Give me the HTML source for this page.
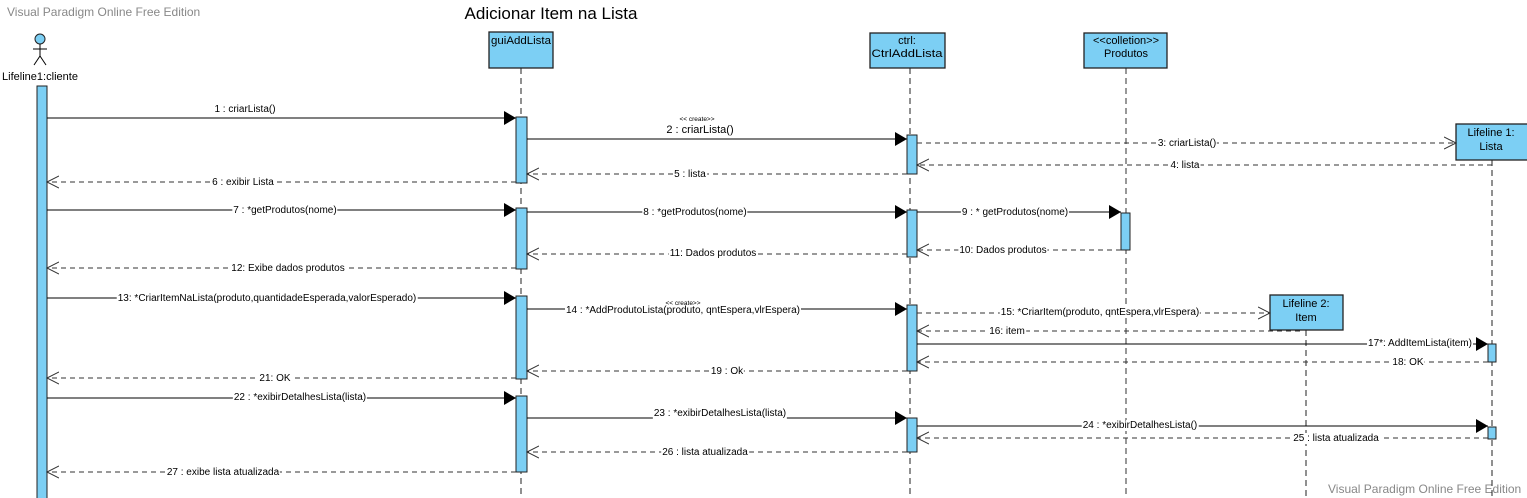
<!DOCTYPE html>
<html><head><meta charset="utf-8"><style>
html,body{margin:0;padding:0;background:#fff;}
#w{position:relative;width:1527px;height:498px;overflow:hidden;font-family:"Liberation Sans",sans-serif;}
svg{display:block;position:absolute;left:0;top:0;font-family:"Liberation Sans",sans-serif;}
.t{position:absolute;font-size:10px;line-height:11px;white-space:nowrap;background:#fff;transform:translateX(-50%);padding:0 1px;color:#000;}
.box{fill:#7ccff4;stroke:#222;stroke-width:1.3;}
.act{fill:#7ccff4;stroke:#222;stroke-width:1;}
.ll{stroke:#222;stroke-width:1;stroke-dasharray:6,4;fill:none;}
.s{stroke:#000;stroke-width:1;fill:none;}
.d{stroke:#333;stroke-width:1;stroke-dasharray:5,4;fill:none;}
</style></head><body><div id="w">
<svg width="1527" height="498" viewBox="0 0 1527 498" xmlns="http://www.w3.org/2000/svg">
<defs>
<marker id="f" markerWidth="13" markerHeight="14" refX="12" refY="7" orient="auto" markerUnits="userSpaceOnUse"><path d="M0,0 L12,7 L0,14 z" fill="#000"/></marker>
<marker id="o" markerWidth="14" markerHeight="14" refX="12" refY="7" orient="auto" markerUnits="userSpaceOnUse"><path d="M0,1 L12,7 L0,13" fill="none" stroke="#333" stroke-width="1"/></marker>
</defs>
<text x="7" y="16" font-size="12" fill="#888">Visual Paradigm Online Free Edition</text>
<text x="1328" y="493" font-size="12" fill="#888">Visual Paradigm Online Free Edition</text>
<text x="551" y="19" font-size="17" text-anchor="middle">Adicionar Item na Lista</text>

<circle cx="40" cy="39" r="5" fill="#7ccff4" stroke="#222"/>
<line x1="40" y1="44" x2="40" y2="56" class="s"/>
<line x1="33" y1="49" x2="47" y2="49" class="s"/>
<line x1="40" y1="56" x2="34" y2="65" class="s"/>
<line x1="40" y1="56" x2="46" y2="65" class="s"/>
<text x="40" y="80" font-size="11" text-anchor="middle" textLength="76" lengthAdjust="spacingAndGlyphs">Lifeline1:cliente</text>
<rect x="37" y="86" width="10" height="420" class="act"/>

<line x1="521" y1="68" x2="521" y2="498" class="ll"/>
<line x1="910" y1="68" x2="910" y2="498" class="ll"/>
<line x1="1126" y1="68" x2="1126" y2="498" class="ll" style="stroke:#777;stroke-width:1.5"/>
<line x1="1492" y1="160" x2="1492" y2="498" class="ll"/>
<line x1="1306" y1="330" x2="1306" y2="498" class="ll"/>

<rect x="489" y="32" width="64" height="36" class="box"/>
<text x="521" y="44" font-size="11" text-anchor="middle" textLength="60" lengthAdjust="spacingAndGlyphs">guiAddLista</text>
<rect x="870" y="33" width="75" height="35" class="box"/>
<text x="907" y="44" font-size="11" text-anchor="middle">ctrl:</text>
<text x="907" y="57" font-size="11" text-anchor="middle" textLength="71" lengthAdjust="spacingAndGlyphs">CtrlAddLista</text>
<rect x="1084" y="33" width="83" height="35" class="box"/>
<text x="1126" y="44" font-size="11" text-anchor="middle">&lt;&lt;colletion&gt;&gt;</text>
<text x="1126" y="57" font-size="11" text-anchor="middle">Produtos</text>
<rect x="1456" y="124" width="73" height="36" class="box"/>
<text x="1491" y="136" font-size="11" text-anchor="middle">Lifeline 1:</text>
<text x="1491" y="150" font-size="11" text-anchor="middle">Lista</text>
<rect x="1270" y="295" width="73" height="35" class="box"/>
<text x="1306" y="307" font-size="11" text-anchor="middle">Lifeline 2:</text>
<text x="1306" y="321" font-size="11" text-anchor="middle">Item</text>

<rect x="516" y="117" width="11" height="66" class="act"/>
<rect x="516" y="208" width="11" height="61" class="act"/>
<rect x="516" y="296" width="11" height="83" class="act"/>
<rect x="516" y="396" width="11" height="76" class="act"/>
<rect x="907" y="135" width="10" height="39" class="act"/>
<rect x="907" y="210" width="10" height="47" class="act"/>
<rect x="907" y="305" width="10" height="66" class="act"/>
<rect x="907" y="418" width="10" height="34" class="act"/>
<rect x="1121" y="213" width="9" height="37" class="act"/>
<rect x="1488" y="344" width="8" height="18" class="act"/>
<rect x="1488" y="427" width="8" height="12" class="act"/>

<line x1="47" y1="118" x2="516" y2="118" class="s" marker-end="url(#f)"/>
<text x="697" y="121" font-size="6.5" text-anchor="middle">&lt;&lt; create&gt;&gt;</text>
<line x1="527" y1="139" x2="907" y2="139" class="s" marker-end="url(#f)"/>
<line x1="917" y1="143" x2="1456" y2="143" class="d" marker-end="url(#o)"/>
<line x1="1492" y1="165" x2="917" y2="165" class="d" marker-end="url(#o)"/>
<line x1="907" y1="174" x2="527" y2="174" class="d" marker-end="url(#o)"/>
<line x1="516" y1="182" x2="47" y2="182" class="d" marker-end="url(#o)"/>
<line x1="47" y1="210" x2="516" y2="210" class="s" marker-end="url(#f)"/>
<line x1="527" y1="212" x2="907" y2="212" class="s" marker-end="url(#f)"/>
<line x1="917" y1="212" x2="1121" y2="212" class="s" marker-end="url(#f)"/>
<line x1="1121" y1="250" x2="917" y2="250" class="d" marker-end="url(#o)"/>
<line x1="907" y1="254" x2="527" y2="254" class="d" marker-end="url(#o)"/>
<line x1="516" y1="268" x2="47" y2="268" class="d" marker-end="url(#o)"/>
<line x1="47" y1="298" x2="516" y2="298" class="s" marker-end="url(#f)"/>
<text x="683" y="305" font-size="6.5" text-anchor="middle">&lt;&lt; create&gt;&gt;</text>
<line x1="527" y1="309" x2="907" y2="309" class="s" marker-end="url(#f)"/>
<line x1="917" y1="313" x2="1270" y2="313" class="d" marker-end="url(#o)"/>
<line x1="1300" y1="331" x2="917" y2="331" class="d" marker-end="url(#o)"/>
<line x1="917" y1="344" x2="1488" y2="344" class="s" marker-end="url(#f)"/>
<line x1="1488" y1="362" x2="917" y2="362" class="d" marker-end="url(#o)"/>
<line x1="907" y1="371" x2="527" y2="371" class="d" marker-end="url(#o)"/>
<line x1="516" y1="378" x2="47" y2="378" class="d" marker-end="url(#o)"/>
<line x1="47" y1="398" x2="516" y2="398" class="s" marker-end="url(#f)"/>
<line x1="527" y1="418" x2="907" y2="418" class="s" marker-end="url(#f)"/>
<line x1="917" y1="426" x2="1488" y2="426" class="s" marker-end="url(#f)"/>
<line x1="1488" y1="438" x2="917" y2="438" class="d" marker-end="url(#o)"/>
<line x1="907" y1="452" x2="527" y2="452" class="d" marker-end="url(#o)"/>
<line x1="516" y1="472" x2="47" y2="472" class="d" marker-end="url(#o)"/>
</svg>
<div class="t" style="left:245px;top:104px;">1 : criarLista()</div>
<div class="t" style="left:700px;top:124px;font-size:11px;line-height:12px;">2 : criarLista()</div>
<div class="t" style="left:1187px;top:138px;">3: criarLista()</div>
<div class="t" style="left:1185px;top:160px;">4: lista</div>
<div class="t" style="left:690px;top:169px;">5 : lista</div>
<div class="t" style="left:243px;top:177px;">6 : exibir Lista</div>
<div class="t" style="left:285px;top:205px;">7 : *getProdutos(nome)</div>
<div class="t" style="left:695px;top:207px;">8 :  *getProdutos(nome)</div>
<div class="t" style="left:1015px;top:207px;">9 : * getProdutos(nome)</div>
<div class="t" style="left:1003px;top:245px;">10: Dados produtos</div>
<div class="t" style="left:713px;top:248px;">11: Dados produtos</div>
<div class="t" style="left:288px;top:263px;">12: Exibe dados produtos</div>
<div class="t" style="left:267px;top:293px;">13: *CriarItemNaLista(produto,quantidadeEsperada,valorEsperado)</div>
<div class="t" style="left:683px;top:305px;">14 : *AddProdutoLista(produto, qntEspera,vlrEspera)</div>
<div class="t" style="left:1100px;top:307px;">15: *CriarItem(produto, qntEspera,vlrEspera)</div>
<div class="t" style="left:1007px;top:326px;">16: item</div>
<div class="t" style="left:1420px;top:338px;">17*: AddItemLista(item)</div>
<div class="t" style="left:1408px;top:357px;">18: OK</div>
<div class="t" style="left:727px;top:366px;">19 : Ok</div>
<div class="t" style="left:275px;top:373px;">21: OK</div>
<div class="t" style="left:300px;top:392px;">22 : *exibirDetalhesLista(lista)</div>
<div class="t" style="left:720px;top:408px;">23 : *exibirDetalhesLista(lista)</div>
<div class="t" style="left:1140px;top:420px;">24 : *exibirDetalhesLista() </div>
<div class="t" style="left:1336px;top:433px;">25 : lista atualizada</div>
<div class="t" style="left:705px;top:447px;">26 : lista atualizada</div>
<div class="t" style="left:223px;top:467px;">27 : exibe lista atualizada</div>
</div></body></html>
